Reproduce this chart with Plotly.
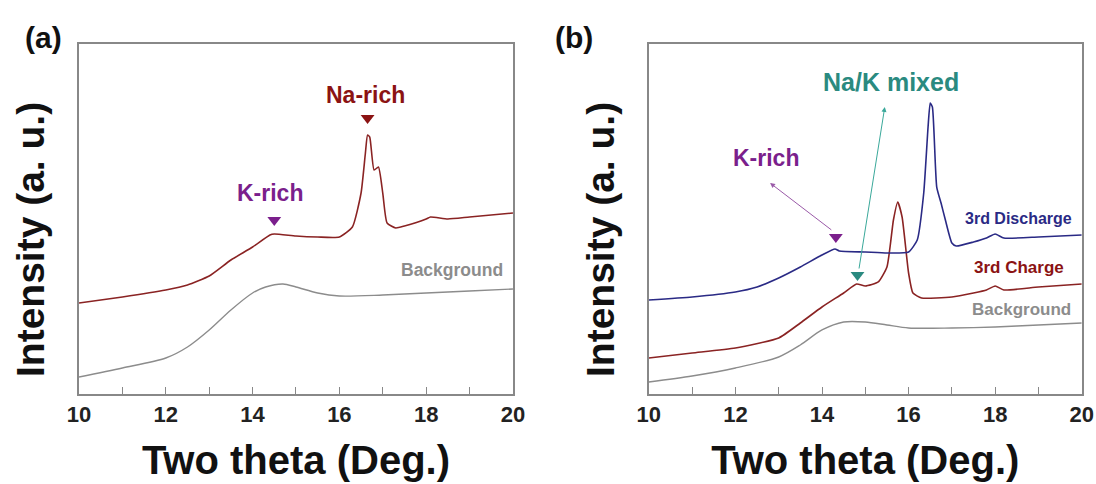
import plotly.graph_objects as go

# ---------------- data (panel a) ----------------
a_sample_x = [10, 11, 12, 12.5, 13, 13.5, 14, 14.4, 14.5, 15, 15.5, 16, 16.3, 16.5, 16.6, 16.65, 16.7, 16.8, 16.9, 17.0, 17.1, 17.3, 17.5, 18, 18.1, 18.5, 19, 20]
a_sample_y = [97, 103, 110, 115, 124, 140, 153, 165, 166, 164, 163, 163, 173, 207, 247, 265, 263, 230, 233, 207, 177, 172, 174, 181, 183, 181, 183, 187]
a_bg_x = [10, 11, 12, 12.5, 13, 13.5, 14, 14.3, 14.7, 15, 15.5, 16, 17, 18, 19, 20]
a_bg_y = [23, 32, 42, 53, 70, 90, 107, 113, 116, 113, 107, 104, 105, 107, 109, 111]

# ---------------- data (panel b) ----------------
b_dis_x = [10, 11, 12, 12.5, 13, 13.5, 14, 14.3, 14.4, 15, 15.5, 16, 16.2, 16.35, 16.45, 16.5, 16.55, 16.65, 16.75, 16.85, 17.0, 17.1, 17.5, 17.8, 18, 18.2, 19, 20]
b_dis_y = [100, 103, 108, 113, 122, 133, 145, 151, 149, 148, 147, 148, 160, 207, 273, 297, 293, 213, 197, 180, 157, 154, 158, 162, 166, 162, 163, 165]
b_chg_x = [10, 11, 12, 13, 13.5, 14, 14.5, 14.8, 15, 15.3, 15.5, 15.65, 15.75, 15.85, 16.0, 16.1, 16.3, 17, 17.5, 17.8, 18, 18.2, 19, 20]
b_chg_y = [42, 47, 52, 62, 77, 93, 107, 116, 114, 118, 133, 180, 198, 183, 127, 107, 102, 103, 107, 110, 114, 110, 113, 116]
b_bg_x = [10, 11, 12, 13, 13.5, 14, 14.5, 15, 15.5, 16, 17, 18, 19, 20]
b_bg_y = [18, 24, 32, 43, 55, 70, 78, 78, 75, 72, 72, 73, 75, 77]

# peak markers
a_na_peak = (16.65, 282)
a_k_peak = (14.5, 180)
b_k_peak = (14.32, 163)
b_mix_peak = (14.82, 125)

x_ticks = [10, 12, 14, 16, 18, 20]

RED = "#8a2323"
BLUE = "#2a2a85"
GRAY = "#8c8c8c"
PURPLE = "#7b1f8c"
TEAL = "#2a8a80"
DARKRED = "#8b1313"
FONT = "Arial, Liberation Sans, sans-serif"

fig = go.Figure()
fig.add_trace(go.Scatter(x=a_sample_x, y=a_sample_y, mode="lines", line=dict(color=RED, width=1.6, shape="spline", smoothing=0.5), xaxis="x", yaxis="y", showlegend=False))
fig.add_trace(go.Scatter(x=a_bg_x, y=a_bg_y, mode="lines", line=dict(color=GRAY, width=1.4, shape="spline", smoothing=0.8), xaxis="x", yaxis="y", showlegend=False))
fig.add_trace(go.Scatter(x=[a_na_peak[0]], y=[a_na_peak[1]], mode="markers", marker=dict(symbol="triangle-down", size=12, color=DARKRED), xaxis="x", yaxis="y", showlegend=False))
fig.add_trace(go.Scatter(x=[a_k_peak[0]], y=[a_k_peak[1]], mode="markers", marker=dict(symbol="triangle-down", size=12, color=PURPLE), xaxis="x", yaxis="y", showlegend=False))

fig.add_trace(go.Scatter(x=b_bg_x, y=b_bg_y, mode="lines", line=dict(color=GRAY, width=1.4, shape="spline", smoothing=0.8), xaxis="x2", yaxis="y2", showlegend=False))
fig.add_trace(go.Scatter(x=b_chg_x, y=b_chg_y, mode="lines", line=dict(color=RED, width=1.6, shape="spline", smoothing=0.5), xaxis="x2", yaxis="y2", showlegend=False))
fig.add_trace(go.Scatter(x=b_dis_x, y=b_dis_y, mode="lines", line=dict(color=BLUE, width=1.6, shape="spline", smoothing=0.5), xaxis="x2", yaxis="y2", showlegend=False))
fig.add_trace(go.Scatter(x=[b_k_peak[0]], y=[b_k_peak[1]], mode="markers", marker=dict(symbol="triangle-down", size=12, color=PURPLE), xaxis="x2", yaxis="y2", showlegend=False))
fig.add_trace(go.Scatter(x=[b_mix_peak[0]], y=[b_mix_peak[1]], mode="markers", marker=dict(symbol="triangle-down", size=12, color=TEAL), xaxis="x2", yaxis="y2", showlegend=False))

yr = [6, 356]
axis_common = dict(range=[10, 20], tickvals=x_ticks, ticks="inside", ticklen=7, tickcolor="#888",
                   minor=dict(dtick=1, ticks="inside", ticklen=7, tickcolor="#888"),
                   showline=True, linecolor="#888", linewidth=1.5, mirror=True, showgrid=False, zeroline=False,
                   automargin=False,
                   tickfont=dict(family=FONT, size=22, color="#222", weight="bold"),
                   title=dict(text="Two theta (Deg.)", font=dict(family=FONT, size=40, color="#111", weight="bold"), standoff=20))
yaxis_common = dict(range=yr, showticklabels=False, ticks="", showline=True, linecolor="#888", linewidth=1.5, mirror=True,
                    showgrid=False, zeroline=False, automargin=False)

fig.update_layout(
    width=1096, height=484, margin=dict(l=0, r=0, t=0, b=0),
    paper_bgcolor="white", plot_bgcolor="white",
    xaxis=dict(domain=[0.0721, 0.468], anchor="y", **axis_common),
    yaxis=dict(domain=[0.186, 0.909], anchor="x", **yaxis_common),
    xaxis2=dict(domain=[0.592, 0.987], anchor="y2", **axis_common),
    yaxis2=dict(domain=[0.186, 0.909], anchor="x2", **yaxis_common),
)

def txt(x, y, text, color, size, xref="x", yref="y", angle=0):
    fig.add_annotation(x=x, y=y, xref=xref, yref=yref, text=text, showarrow=False,
                       xanchor="center", yanchor="middle", textangle=angle,
                       font=dict(family=FONT, size=size, color=color, weight="bold"))

# y-axis titles
txt(30 / 1096, 1 - 240 / 484, "Intensity (a. u.)", "#111", 39, "paper", "paper", -90)
txt(600 / 1096, 1 - 240 / 484, "Intensity (a. u.)", "#111", 39, "paper", "paper", -90)
# panel labels
txt(43 / 1096, 1 - 37 / 484, "(a)", "#111", 30, "paper", "paper")
txt(574 / 1096, 1 - 37 / 484, "(b)", "#111", 30, "paper", "paper")
# panel a texts
txt(16.6, 305, "Na-rich", DARKRED, 23)
txt(14.4, 207, "K-rich", PURPLE, 23)
txt(18.6, 130, "Background", GRAY, 17.5)
# panel b texts
txt(18.55, 182, "3rd Discharge", BLUE, 16, "x2", "y2")
txt(18.55, 133, "3rd Charge", DARKRED, 17, "x2", "y2")
txt(18.6, 90, "Background", GRAY, 17, "x2", "y2")
txt(12.7, 242, "K-rich", PURPLE, 23, "x2", "y2")
txt(15.6, 318, "Na/K mixed", TEAL, 25, "x2", "y2")

# arrows panel b
fig.add_annotation(x=12.8, y=217, ax=14.25, ay=169, xref="x2", yref="y2", axref="x2", ayref="y2",
                   text="", showarrow=True, arrowhead=2, arrowsize=1, arrowwidth=1, arrowcolor="#9a5aa8")
fig.add_annotation(x=15.45, y=293, ax=14.85, ay=130, xref="x2", yref="y2", axref="x2", ayref="y2",
                   text="", showarrow=True, arrowhead=2, arrowsize=1, arrowwidth=1, arrowcolor="#3aa89a")

fig.write_html("out.html")
